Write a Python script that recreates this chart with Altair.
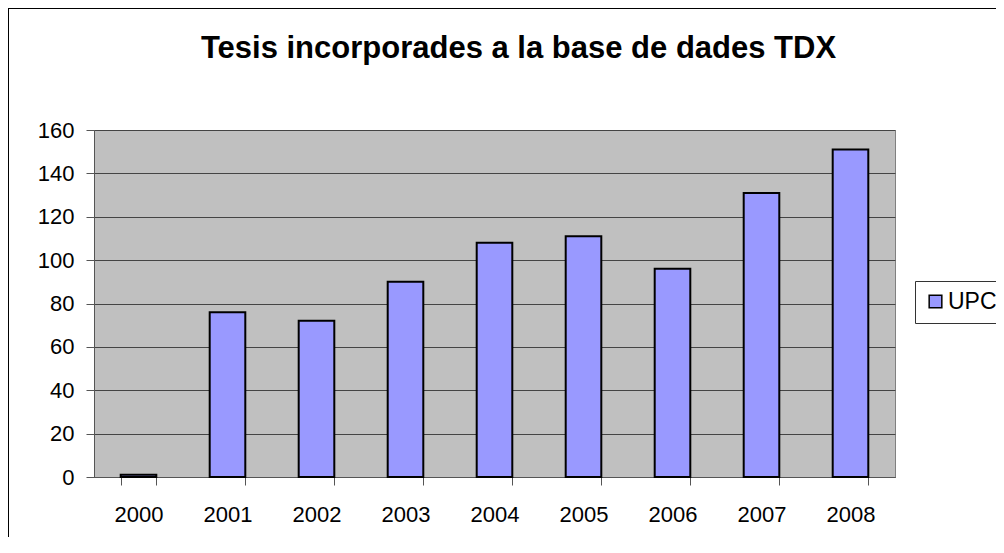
import altair as alt
import pandas as pd

years = ["2000", "2001", "2002", "2003", "2004", "2005", "2006", "2007", "2008"]
upc = [1, 76, 72, 90, 108, 111, 96, 131, 151]
series = ["UPC"] * len(years)

df = pd.DataFrame({"any": years, "tesis": upc, "serie": series})

FONT = "Liberation Sans"
W, H = 801, 347
PL, PT, PR, PB = 86, 122, 101, 60

bars = alt.Chart(df).mark_bar(stroke="black", strokeWidth=2).encode(
    x=alt.X(
        "any:N",
        sort=years,
        title=None,
        scale=alt.Scale(paddingInner=0.6, paddingOuter=0.3),
        axis=alt.Axis(
            labelAngle=0,
            labelFontSize=22,
            labelFont=FONT,
            labelColor="black",
            labelPadding=19,
            tickBand="extent",
            tickSize=8,
            tickColor="#555",
            domainColor="#555",
            domainWidth=1,
            grid=False,
        ),
    ),
    y=alt.Y(
        "tesis:Q",
        title=None,
        scale=alt.Scale(domain=[0, 160], nice=False),
        axis=alt.Axis(
            values=list(range(0, 161, 20)),
            labelFontSize=22,
            labelFont=FONT,
            labelColor="black",
            labelPadding=12,
            tickSize=8,
            tickColor="#555",
            domainColor="#555",
            gridColor="#444",
            gridWidth=1,
            grid=True,
        ),
    ),
    color=alt.Color(
        "serie:N",
        scale=alt.Scale(range=["#9999FF"]),
        legend=alt.Legend(
            title=None,
            orient="none",
            legendX=821,
            legendY=151,
            symbolType="square",
            symbolSize=160,
            symbolStrokeColor="black",
            symbolStrokeWidth=1.5,
            labelFontSize=23,
            labelFont=FONT,
            labelColor="black",
            labelOffset=1,
            strokeColor="#333",
            padding=9,
            fillColor="white",
        ),
    ),
)

left_line = alt.Chart(df).mark_rule(color="black", strokeWidth=1.5, clip=False).encode(
    x=alt.value(-PL),
    y=alt.value(-PT),
    y2=alt.value(H + PB + 40),
)
top_line = alt.Chart(df).mark_rule(color="black", strokeWidth=1.5, clip=False).encode(
    x=alt.value(-PL),
    x2=alt.value(W + PR + 40),
    y=alt.value(-PT),
)

chart = (
    alt.layer(left_line, top_line, bars)
    .properties(
        width=W,
        height=H,
        title=alt.TitleParams(
            "Tesis incorporades a la base de dades TDX",
            font=FONT,
            fontSize=31,
            fontWeight="bold",
            color="black",
            anchor="middle",
            frame="group",
            baseline="alphabetic",
            offset=0,
            dy=82,
            dx=24,
        ),
        padding={"left": PL, "top": PT, "right": PR, "bottom": PB},
        autosize=alt.AutoSizeParams(type="none"),
        background="white",
    )
    .configure_view(fill="#C0C0C0", stroke="#808080", strokeWidth=1)
)

chart.save("out.html", embed_options={"renderer": "svg", "actions": False})
